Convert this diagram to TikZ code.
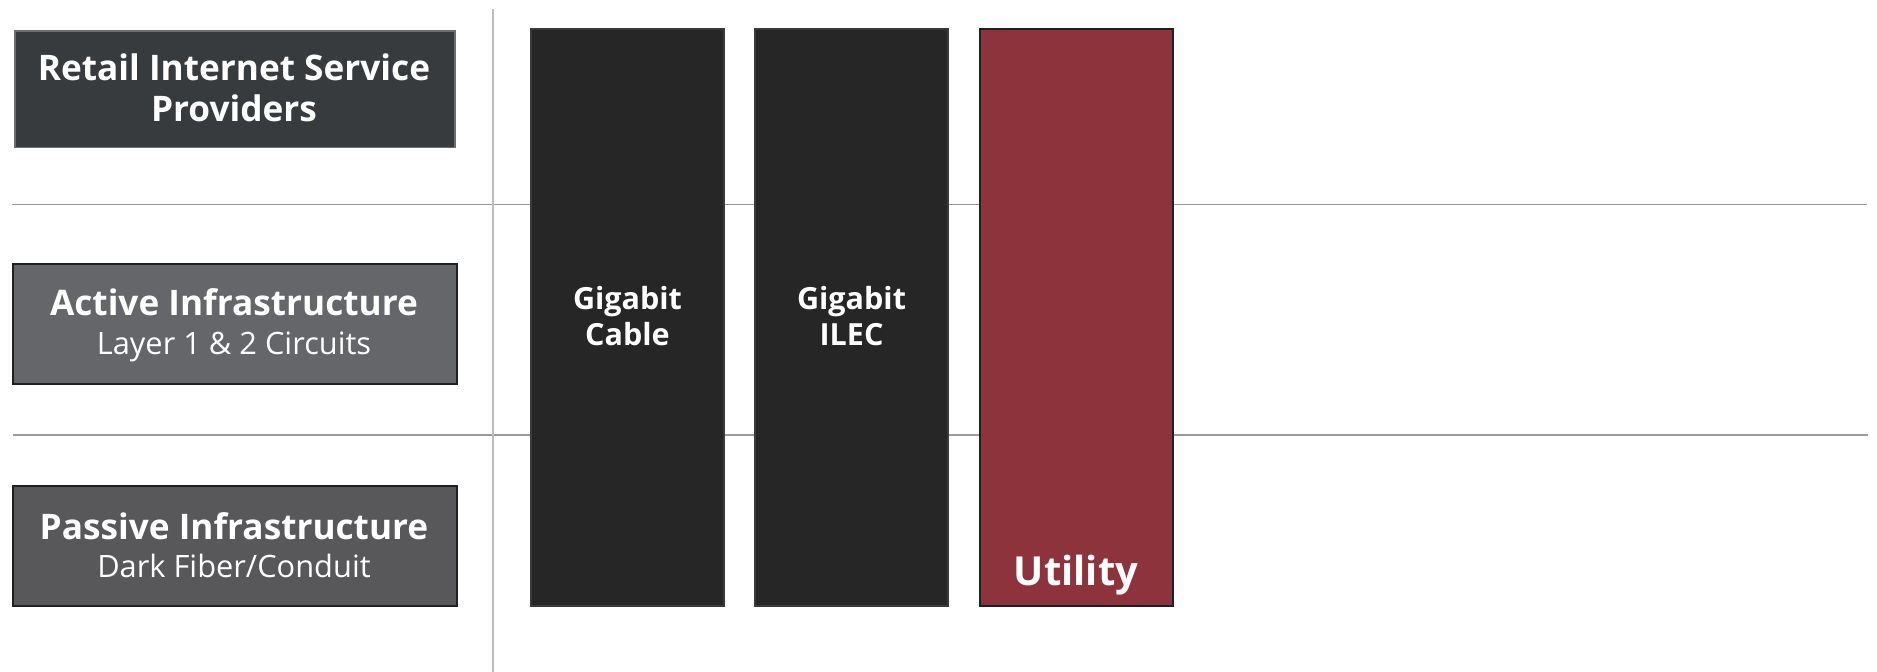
\documentclass[tikz,border=0pt]{standalone}
\usepackage{fontspec}
\setmainfont{Open Sans}
\definecolor{rspfill}{HTML}{383B3E}
\definecolor{rspdraw}{HTML}{6E6E6E}
\definecolor{actfill}{HTML}{64666A}
\definecolor{pasfill}{HTML}{58585A}
\definecolor{boxdraw}{HTML}{202020}
\definecolor{colfill}{HTML}{262626}
\definecolor{coldraw}{HTML}{3A3A3A}
\definecolor{utilfill}{HTML}{8C333B}
\definecolor{hline}{HTML}{9A9A9A}
\definecolor{vline}{HTML}{BDBDBD}
\tikzset{
  rowbox/.style={draw=boxdraw, line width=2pt, anchor=north west, inner sep=0pt, minimum width=443.4pt, minimum height=119.8pt},
  colbox/.style={draw=coldraw, line width=1.5pt, fill=colfill, anchor=north west, inner sep=0pt, minimum width=193pt, minimum height=577pt},
  headtxt/.style={anchor=base, text=white, inner sep=0pt, font=\bfseries\fontsize{35.2}{42}\selectfont},
  subtxt/.style={anchor=base, text=white, inner sep=0pt, font=\fontsize{30.8}{37}\selectfont},
  coltxt/.style={anchor=base, text=white, inner sep=0pt, font=\bfseries\fontsize{30.5}{36}\selectfont},
  divider/.style={draw=hline, line width=1.2pt},
}
\begin{document}
\begin{tikzpicture}[x=1pt,y=-1pt]
\useasboundingbox[fill=white] (0,0) rectangle (1877,672);
% grid lines
\coordinate (h1a) at (11.5,204.5);
\coordinate (h1b) at (1867,204.5);
\coordinate (h2a) at (12.6,435);
\coordinate (h2b) at (1868,435);
\coordinate (va) at (492.7,9.3);
\coordinate (vb) at (492.7,672);
\draw[divider] (h1a) -- (h1b);
\draw[divider] (h2a) -- (h2b);
\draw[draw=vline, line width=1.6pt] (va) -- (vb);
% row boxes
\node[rowbox, draw=rspdraw, line width=1.5pt, fill=rspfill, minimum width=440.2pt, minimum height=116.5pt] (rsp) at (14,30) {};
\node[rowbox, fill=actfill] (act) at (12.3,263) {};
\node[rowbox, fill=pasfill] (pas) at (12.3,485.2) {};
\node[headtxt] (rsp1) at (234,80) {Retail Internet Service};
\node[headtxt] (rsp2) at (234,121.7) {Providers};
\node[headtxt] (act1) at (234,315.3) {Active Infrastructure};
\node[subtxt] (act2) at (234,354) {Layer 1 \& 2 Circuits};
\node[headtxt] (pas1) at (234,539) {Passive Infrastructure};
\node[subtxt] (pas2) at (234,577.3) {Dark Fiber/Conduit};
% columns
\node[colbox] (cable) at (530.2,28) {};
\node[colbox] (ilec) at (754.3,28) {};
\node[colbox, fill=utilfill, draw=boxdraw, line width=2pt] (util) at (978.5,28) {};
\node[coltxt] (cable1) at (cable.center |- 0,309.3) {Gigabit};
\node[coltxt] (cable2) at (cable.center |- 0,345) {Cable};
\node[coltxt] (ilec1) at (ilec.center |- 0,309.3) {Gigabit};
\node[coltxt] (ilec2) at (ilec.center |- 0,345) {ILEC};
\node[coltxt, font=\bfseries\fontsize{40}{46}\selectfont] (util1) at (util.center |- 0,585.5) {Utility};
\end{tikzpicture}
\end{document}
